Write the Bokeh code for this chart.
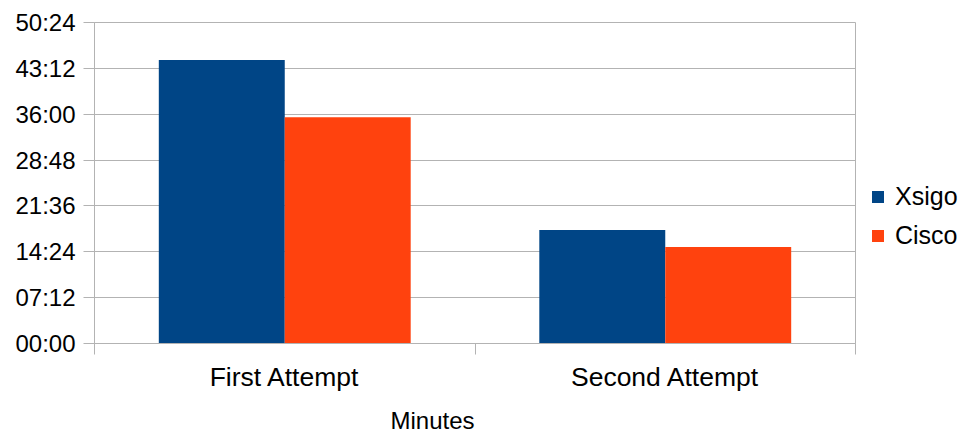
from bokeh.plotting import figure
from bokeh.models import (FixedTicker, Range1d, Legend, LegendItem, Title,
                          ColumnDataSource)
from bokeh.transform import dodge
from bokeh.embed import file_html
from bokeh.resources import INLINE

# ---- data (seconds) ----
categories = ["First Attempt", "Second Attempt"]
series = ["Xsigo", "Cisco"]
xsigo = [44 * 60 + 30, 17 * 60 + 50]
cisco = [35 * 60 + 32, 15 * 60 + 8]
colors = ["#004586", "#ff420e"]
y_ticks = [0, 432, 864, 1296, 1728, 2160, 2592, 3024]
y_tick_labels = ["00:00", "07:12", "14:24", "21:36", "28:48", "36:00", "43:12", "50:24"]
x_title = "Minutes"

FONT = "Liberation Sans"
GRID = "#b3b3b3"

src = ColumnDataSource(dict(
    x=[i + 0.5 for i in range(len(categories))],
    Xsigo=xsigo,
    Cisco=cisco,
))

p = figure(frame_width=761, frame_height=321, output_backend="svg",
           toolbar_location=None,
           x_range=Range1d(0, len(categories)), y_range=Range1d(0, y_ticks[-1]),
           min_border_left=94, min_border_right=108, min_border_top=22,
           min_border_bottom=91)
p.background_fill_color = "white"
p.border_fill_color = "white"
p.outline_line_color = GRID

bw = 0.331
r1 = p.vbar(x=dodge("x", -bw / 2, range=p.x_range), top="Xsigo", width=bw,
            source=src, fill_color=colors[0], line_color=None)
r2 = p.vbar(x=dodge("x", bw / 2, range=p.x_range), top="Cisco", width=bw,
            source=src, fill_color=colors[1], line_color=None)

# y axis
p.yaxis.ticker = FixedTicker(ticks=y_ticks)
p.yaxis.major_label_overrides = {t: l for t, l in zip(y_ticks, y_tick_labels)}
p.yaxis.major_label_text_font = FONT
p.yaxis.major_label_text_font_size = "24px"
p.yaxis.major_label_text_color = "black"
p.yaxis.major_label_standoff = 8
p.yaxis.major_tick_in = 0
p.yaxis.major_tick_out = 11
p.yaxis.major_tick_line_color = GRID
p.yaxis.minor_tick_line_color = None
p.yaxis.axis_line_color = GRID

# x axis: labels at centers, ticks at boundaries
centers = [i + 0.5 for i in range(len(categories))]
bounds = list(range(len(categories) + 1))
p.xaxis.ticker = FixedTicker(ticks=centers, minor_ticks=bounds)
p.xaxis.major_label_overrides = {c: l for c, l in zip(centers, categories)}
p.xaxis.major_label_text_font = FONT
p.xaxis.major_label_text_font_size = "26.5px"
p.xaxis.major_label_text_color = "black"
p.xaxis.major_label_standoff = 7
p.xaxis.major_tick_in = 0
p.xaxis.major_tick_out = 0
p.xaxis.minor_tick_in = 0
p.xaxis.minor_tick_out = 11
p.xaxis.minor_tick_line_color = GRID
p.xaxis.axis_line_color = GRID

p.xgrid.grid_line_color = None
p.ygrid.grid_line_color = GRID
p.ygrid.ticker = FixedTicker(ticks=y_ticks)

# x title
p.add_layout(Title(text=x_title, align="left", offset=296, standoff=21,
                   text_font=FONT, text_font_size="24px", text_color="black",
                   text_font_style="normal"), "below")

legend = Legend(items=[LegendItem(label=series[0], renderers=[r1]),
                       LegendItem(label=series[1], renderers=[r2])],
                location=(15, 93), orientation="vertical",
                glyph_width=15, glyph_height=15, label_standoff=10,
                label_text_font=FONT, label_text_font_size="25px",
                label_text_color="black", label_height=28, spacing=10,
                padding=0, margin=0, border_line_color=None,
                background_fill_alpha=0)
p.add_layout(legend, "right")

open("out.html", "w").write(file_html(p, INLINE))
